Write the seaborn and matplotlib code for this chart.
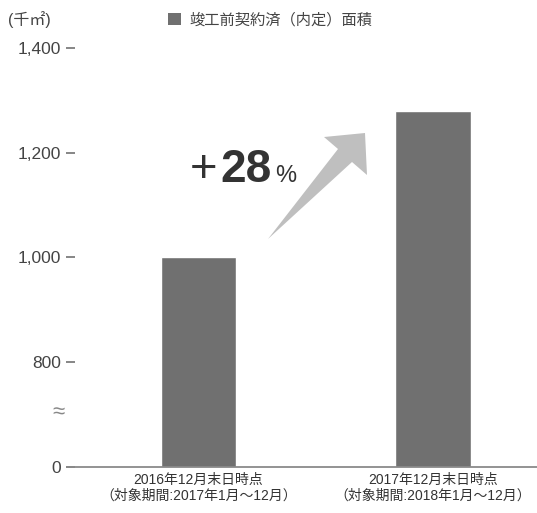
import matplotlib
matplotlib.use("Agg")
import matplotlib.pyplot as plt
from matplotlib.patches import Patch, Polygon
import seaborn as sns
import pandas as pd

# ---- data ----
categories = ["2016年12月末日時点\n（対象期間:2017年1月～12月）",
              "2017年12月末日時点\n（対象期間:2018年1月～12月）"]
values = [1000, 1280]
series_name = "竣工前契約済（内定）面積"
unit_label = "(千㎡)"
ytick_values = [600, 800, 1000, 1200, 1400]
ytick_labels = ["0", "800", "1,000", "1,200", "1,400"]
growth_label = ["+", "28", "%"]

sns.set_style("white")
plt.rcParams["font.family"] = ["Liberation Sans", "Noto Sans CJK JP", "DejaVu Sans"]

W, H = 537, 513
fig = plt.figure(figsize=(W / 100, H / 100), dpi=100)
ax = fig.add_axes([75 / W, 46 / H, (W - 75) / W, (467 - 40) / H])

df = pd.DataFrame({"cat": categories, "val": values})
sns.barplot(data=df, x="cat", y="val", color="#707070", saturation=1,
            width=0.32, ax=ax)

ax.set_xlim(-0.525, 1.443)
ax.set_ylim(600, 1415)
ax.set_yticks(ytick_values)
ax.set_yticklabels(ytick_labels)
ax.set_xlabel("")
ax.set_ylabel("")
for s in ["left", "top", "right"]:
    ax.spines[s].set_visible(False)
ax.spines["bottom"].set_color("#8a8a8a")
ax.spines["bottom"].set_linewidth(1.3)
ax.tick_params(axis="y", left=True, direction="out", length=6.5, width=1.1,
               color="#666666", pad=3.5, labelsize=12.5, labelcolor="#444444")
ax.tick_params(axis="x", bottom=False, length=0, pad=4, labelsize=10,
               labelcolor="#333333")
for lbl in ax.get_xticklabels():
    lbl.set_linespacing(1.2)

# axis break mark
ax.text(-0.035, 703, "≈", transform=ax.get_yaxis_transform(),
        ha="center", va="center", fontsize=16, color="#888888")

# unit label
fig.text(8 / W, 1 - 20 / H, unit_label, ha="left", va="center",
         fontsize=11.5, color="#444444")

# legend
ax.legend(handles=[Patch(facecolor="#707070", edgecolor="none", label=series_name)],
          loc="center left", bbox_to_anchor=(160 / W, 1 - 20 / H),
          bbox_transform=fig.transFigure, frameon=False, fontsize=11,
          handlelength=0.85, handleheight=0.85, handletextpad=0.55,
          borderpad=0, labelcolor="#444444")

# growth arrow (decoration)
pts_px = [(268, 239), (352, 162), (367, 175), (365, 133), (324, 137), (338, 149)]
pts = [(x / W, 1 - y / H) for x, y in pts_px]
fig.patches.append(Polygon(pts, closed=True, facecolor="#bfbfbf",
                           edgecolor="none", transform=fig.transFigure))

# growth text
base = 1 - 182 / H
fig.text(190 / W, base, growth_label[0], ha="left", va="baseline",
         fontsize=34, color="#333333")
fig.text(220 / W, base, growth_label[1], ha="left", va="baseline",
         fontsize=33, fontweight="bold", color="#333333")
fig.text(275 / W, base, growth_label[2], ha="left", va="baseline",
         fontsize=17, color="#333333")

fig.savefig("out.png", dpi=100)
